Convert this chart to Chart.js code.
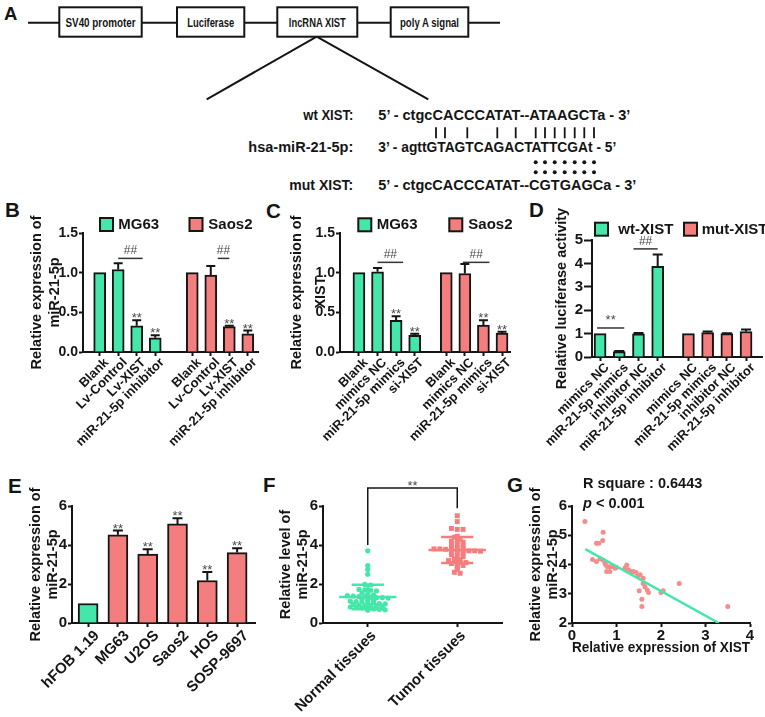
<!DOCTYPE html>
<html>
<head>
<meta charset="utf-8">
<title>XIST / miR-21-5p</title>
<script src="https://cdn.jsdelivr.net/npm/chart.js@4.4.1/dist/chart.umd.min.js"></script>
<style>
  html, body { margin: 0; padding: 0; background: #fff; }
  body { position: relative; width: 765px; height: 717px; overflow: hidden; }
  #art { position: absolute; left: 0; top: 0; }
  .panel { position: absolute; }
  .panel canvas { display: block; }
</style>
</head>
<body>
<svg id="art" width="765" height="717" font-family="Liberation Sans, Arial, sans-serif" font-weight="bold" fill="#151515">
  <!-- A: reporter construct -->
  <g fill="none" stroke="#151515" stroke-width="2">
    <line x1="28" y1="22.7" x2="500" y2="22.7"/>
    <line x1="316.7" y1="36.7" x2="206.7" y2="99.3"/>
    <line x1="316.7" y1="36.7" x2="428.3" y2="99.3"/>
  </g>
  <g fill="#fff" stroke="#151515" stroke-width="2">
    <rect x="59.3" y="7.3" width="82.4" height="29.4"/>
    <rect x="177" y="7.3" width="67.3" height="29.4"/>
    <rect x="277.3" y="7.3" width="80" height="29.4"/>
    <rect x="390.7" y="7.3" width="77.6" height="29.4"/>
  </g>
  <g font-size="13" text-anchor="middle">
    <text x="100.5" y="27.3" textLength="70" lengthAdjust="spacingAndGlyphs">SV40 promoter</text>
    <text x="210.7" y="27.3" textLength="47" lengthAdjust="spacingAndGlyphs">Luciferase</text>
    <text x="317.3" y="27.3" textLength="57" lengthAdjust="spacingAndGlyphs">lncRNA XIST</text>
    <text x="429.5" y="27.3" textLength="59" lengthAdjust="spacingAndGlyphs">poly A signal</text>
  </g>
  <g font-size="14.5">
    <text x="353.3" y="120" text-anchor="end" textLength="50" lengthAdjust="spacingAndGlyphs">wt XIST:</text>
    <text x="378.3" y="120" textLength="252" lengthAdjust="spacingAndGlyphs">5’ - ctgcCACCCATAT--ATAAGCTa - 3’</text>
    <text x="353.3" y="151.7" text-anchor="end" textLength="105" lengthAdjust="spacingAndGlyphs">hsa-miR-21-5p:</text>
    <text x="378.3" y="151.7" textLength="238" lengthAdjust="spacingAndGlyphs">3’ - agttGTAGTCAGACTATTCGAt - 5’</text>
    <text x="353.3" y="190" text-anchor="end" textLength="64" lengthAdjust="spacingAndGlyphs">mut XIST:</text>
    <text x="378.3" y="190" textLength="258" lengthAdjust="spacingAndGlyphs">5’ - ctgcCACCCATAT--CGTGAGCa - 3’</text>
  </g>
  <g stroke="#151515" stroke-width="1.8">
    <line x1="436" y1="127.3" x2="436" y2="138.3"/>
    <line x1="445" y1="127.3" x2="445" y2="138.3"/>
    <line x1="467.3" y1="127.3" x2="467.3" y2="138.3"/>
    <line x1="497.3" y1="127.3" x2="497.3" y2="138.3"/>
    <line x1="515.7" y1="127.3" x2="515.7" y2="138.3"/>
    <line x1="535.7" y1="127.3" x2="535.7" y2="138.3"/>
    <line x1="545" y1="127.3" x2="545" y2="138.3"/>
    <line x1="554.7" y1="127.3" x2="554.7" y2="138.3"/>
    <line x1="564.7" y1="127.3" x2="564.7" y2="138.3"/>
    <line x1="574.7" y1="127.3" x2="574.7" y2="138.3"/>
    <line x1="584.3" y1="127.3" x2="584.3" y2="138.3"/>
    <line x1="594" y1="127.3" x2="594" y2="138.3"/>
  </g>
  <g>
    <circle cx="535.7" cy="162.3" r="2"/><circle cx="545" cy="162.3" r="2"/><circle cx="554.7" cy="162.3" r="2"/>
    <circle cx="564.7" cy="162.3" r="2"/><circle cx="574.7" cy="162.3" r="2"/><circle cx="584.3" cy="162.3" r="2"/>
    <circle cx="594" cy="162.3" r="2"/>
    <circle cx="535.7" cy="172.3" r="2"/><circle cx="545" cy="172.3" r="2"/><circle cx="554.7" cy="172.3" r="2"/>
    <circle cx="564.7" cy="172.3" r="2"/><circle cx="574.7" cy="172.3" r="2"/><circle cx="584.3" cy="172.3" r="2"/>
    <circle cx="594" cy="172.3" r="2"/>
  </g>
  <!-- panel letters -->
  <g font-size="20.5">
    <text x="4" y="20" font-size="18.5">A</text>
    <text x="5" y="217">B</text>
    <text x="266" y="218">C</text>
    <text x="529" y="217">D</text>
    <text x="8" y="493">E</text>
    <text x="263" y="492">F</text>
    <text x="507" y="492">G</text>
  </g>
</svg>

<div class="panel" id="panel-b"><canvas></canvas></div>
<div class="panel" id="panel-c"><canvas></canvas></div>
<div class="panel" id="panel-d"><canvas></canvas></div>
<div class="panel" id="panel-e"><canvas></canvas></div>
<div class="panel" id="panel-f"><canvas></canvas></div>
<div class="panel" id="panel-g"><canvas></canvas></div>

<script>
// ---- data ----
const bCategories = ['Blank', 'Lv-Control', 'Lv-XIST', 'miR-21-5p inhibitor'];
const bMG63 = [1.0, 1.04, 0.33, 0.18];
const bMG63Err = [0, 0.08, 0.07, 0.03];
const bSaos2 = [1.0, 0.97, 0.32, 0.23];
const bSaos2Err = [0, 0.115, 0.01, 0.04];
const bSig = ['', '', '**', '**'];

const cCategories = ['Blank', 'mimics NC', 'miR-21-5p mimics', 'si-XIST'];
const cMG63 = [1.0, 1.01, 0.40, 0.21];
const cMG63Err = [0, 0.05, 0.05, 0.02];
const cSaos2 = [1.0, 0.99, 0.34, 0.24];
const cSaos2Err = [0, 0.12, 0.06, 0.015];
const cSig = ['', '', '**', '**'];

const dCategories = ['mimics NC', 'miR-21-5p mimics', 'inhibitor NC', 'miR-21-5p inhibitor'];
const dWt = [1.0, 0.23, 0.99, 3.88];
const dWtErr = [0, 0.03, 0.04, 0.5];
const dMut = [1.0, 1.04, 1.0, 1.09];
const dMutErr = [0, 0.05, 0.02, 0.08];

const eCategories = ['hFOB 1.19', 'MG63', 'U2OS', 'Saos2', 'HOS', 'SOSP-9697'];
const eValues = [1.0, 4.52, 3.53, 5.08, 2.18, 3.61];
const eErrors = [0, 0.22, 0.25, 0.29, 0.43, 0.22];
const eSig = ['', '**', '**', '**', '**', '**'];

const fCategories = ['Normal tissues', 'Tumor tissues'];
const fNormal = [3.7, 2.95, 2.75, 2.5, 1.98, 1.95, 1.72, 1.7, 1.68, 1.65, 1.55, 1.5, 1.45, 1.4, 1.38,
  1.35, 1.35, 1.32, 1.3, 1.3, 1.28, 1.25, 1.2, 1.15, 1.12, 1.1, 1.1, 1.08, 1.05, 1.0,
  0.98, 0.95, 0.92, 0.9, 0.9, 0.88, 0.85, 0.82, 0.8, 0.78, 0.75, 0.72, 0.7, 0.68, 0.66];
const fTumor = [5.5, 5.2, 4.85, 4.8, 4.8, 4.45, 4.4, 4.3, 4.2, 4.2, 4.15, 4.1, 4.05, 4.0, 3.95,
  3.9, 3.85, 3.8, 3.8, 3.78, 3.75, 3.75, 3.72, 3.7, 3.7, 3.68, 3.65, 3.6, 3.55, 3.5,
  3.45, 3.4, 3.3, 3.25, 3.2, 3.15, 3.1, 3.1, 3.05, 3.0, 2.95, 2.85, 2.75, 2.6, 2.55];

const gXist = [0.29, 0.70, 0.69, 0.55, 0.60, 0.46, 0.55, 0.63, 0.70, 0.74, 0.76, 0.79, 0.85, 0.78,
  0.85, 0.91, 0.97, 1.00, 1.19, 1.23, 1.27, 1.33, 1.38, 1.44, 1.49, 1.53, 1.60, 1.51, 1.64,
  1.69, 1.72, 1.60, 1.57, 1.57, 2.00, 2.05, 2.41, 3.50];
const gMir = [5.47, 5.10, 4.82, 4.73, 4.73, 4.17, 4.10, 4.20, 4.15, 4.05, 3.98, 3.93, 3.92, 3.76,
  3.76, 3.93, 3.87, 3.90, 3.88, 3.98, 3.82, 3.76, 3.76, 3.73, 3.62, 3.65, 3.53, 3.10, 3.24,
  3.13, 3.04, 3.35, 2.81, 2.56, 3.04, 3.10, 3.35, 2.56];
const gFitSlope = -0.843;
const gFitIntercept = 4.78;
const gFitFrom = 0.3;
const gRSquare = '0.6443';

// ---- look ----
const INK = '#151515';
const GREEN = '#45e6a9';
const RED = '#f47e7e';
const PINK = '#f48d8d';
const MARK = '#4a4a4a';
const FONT = "'Liberation Sans', Arial, Helvetica, sans-serif";

Chart.defaults.font.family = FONT;
Chart.defaults.color = INK;
Chart.defaults.animation = false;
Chart.defaults.plugins.legend.display = false;
Chart.defaults.plugins.tooltip.enabled = false;

function place(el, box) {
  el.style.left = box.left + 'px';
  el.style.top = box.top + 'px';
  el.style.width = box.width + 'px';
  el.style.height = box.height + 'px';
}

function layoutFor(p) {
  return {
    autoPadding: false,
    padding: {
      left: 0,
      bottom: 0,
      top: p.area.y0 - p.box.top,
      right: p.box.left + p.box.width - p.area.x1,
    },
  };
}

function valueAxis(p) {
  return {
    type: 'linear',
    min: p.yMin || 0,
    max: p.yMax,
    afterFit: function (s) { s.width = p.area.x0 - p.box.left; },
    border: { display: true, color: INK, width: 2 },
    grid: { display: true, drawOnChartArea: false, drawTicks: true, tickLength: p.yTick || 4, tickWidth: 2, tickColor: INK },
    ticks: {
      stepSize: p.yStep,
      padding: 1,
      color: INK,
      font: { size: p.yFont || 15, weight: 'bold' },
      callback: function (v) { return v.toFixed(p.yDigits || 0); },
    },
    title: {
      display: true,
      text: p.yTitle,
      color: INK,
      font: { size: 14.5, weight: 'bold', lineHeight: p.titleGap + 'px' },
      padding: { top: p.titleX - p.box.left - p.titleGap / 2, bottom: 0 },
    },
  };
}

function indexAxis(p, values, texts) {
  return {
    type: 'linear',
    min: p.xMin,
    max: p.xMax,
    offset: false,
    afterBuildTicks: function (s) {
      s.ticks = values.map(function (v) { return { value: v }; });
    },
    afterFit: function (s) { s.height = p.box.top + p.box.height - p.area.y1; },
    border: { display: true, color: INK, width: 2 },
    grid: { display: true, offset: false, drawOnChartArea: false, drawTicks: true, tickLength: 4, tickWidth: 2, tickColor: INK },
    ticks: {
      autoSkip: false,
      minRotation: 45,
      maxRotation: 45,
      padding: p.xPad || 0,
      labelOffset: p.xShift || 0,
      color: INK,
      font: { size: p.xFont, weight: 'bold' },
      callback: function (v, i) { return texts[i]; },
    },
  };
}

function barMarks(p) {
  return {
    id: 'barMarks',
    afterDatasetsDraw: function (chart) {
      var ctx = chart.ctx;
      var ys = chart.scales.y;
      ctx.save();
      chart.data.datasets.forEach(function (ds, di) {
        chart.getDatasetMeta(di).data.forEach(function (bar, i) {
          var err = ds.errors[i];
          var top = ys.getPixelForValue(ds.data[i].y + err);
          if (err > 0) {
            ctx.strokeStyle = INK;
            ctx.lineWidth = 2;
            ctx.beginPath();
            ctx.moveTo(bar.x, bar.y);
            ctx.lineTo(bar.x, top);
            ctx.moveTo(bar.x - p.cap, top);
            ctx.lineTo(bar.x + p.cap, top);
            ctx.stroke();
          }
          if (ds.sig && ds.sig[i]) {
            ctx.fillStyle = MARK;
            ctx.font = '13px ' + FONT;
            ctx.textAlign = 'center';
            ctx.textBaseline = 'alphabetic';
            ctx.fillText(ds.sig[i], bar.x, top + 2);
          }
        });
      });
      (p.brackets || []).forEach(function (b) {
        var meta = chart.getDatasetMeta(b.series);
        var x1 = meta.data[b.from].x - b.padL;
        var x2 = meta.data[b.to].x + b.padR;
        var y = ys.getPixelForValue(b.level);
        ctx.strokeStyle = '#333';
        ctx.lineWidth = 1.5;
        ctx.beginPath();
        ctx.moveTo(x1, y);
        ctx.lineTo(x2, y);
        ctx.stroke();
        ctx.fillStyle = MARK;
        ctx.font = (b.size || 12) + 'px ' + FONT;
        ctx.textAlign = 'center';
        ctx.textBaseline = 'alphabetic';
        ctx.fillText(b.text, (x1 + x2) / 2, y - 4);
      });
      (p.legend || []).forEach(function (item) {
        var x = item.x - p.box.left;
        var y = item.y - p.box.top;
        ctx.fillStyle = item.color;
        ctx.fillRect(x, y, 13, 13);
        ctx.strokeStyle = INK;
        ctx.lineWidth = 2;
        ctx.strokeRect(x, y, 13, 13);
        ctx.fillStyle = INK;
        ctx.font = 'bold 15px ' + FONT;
        ctx.textAlign = 'left';
        ctx.textBaseline = 'middle';
        ctx.fillText(item.name, item.tx - p.box.left, y + 7);
      });
      ctx.restore();
    },
  };
}

function barPanel(p) {
  var wrap = document.getElementById(p.id);
  place(wrap, p.box);
  var tickValues = [];
  var tickText = [];
  var datasets = p.series.map(function (s) {
    var pts = s.values.map(function (v, i) {
      tickValues.push(s.start + i);
      tickText.push(p.categories[i]);
      return { x: s.start + i, y: v };
    });
    return {
      label: s.name,
      data: pts,
      errors: s.errors,
      sig: s.sig,
      backgroundColor: s.color,
      borderColor: INK,
      borderWidth: 2,
      barThickness: p.barWidth,
      grouped: false,
    };
  });
  new Chart(wrap.querySelector('canvas'), {
    type: 'bar',
    data: { datasets: datasets },
    options: {
      responsive: true,
      maintainAspectRatio: false,
      layout: layoutFor(p),
      scales: { x: indexAxis(p, tickValues, tickText), y: valueAxis(p) },
    },
    plugins: [barMarks(p)],
  });
}

// B
barPanel({
  id: 'panel-b',
  box: { left: 0, top: 195, width: 262, height: 270 },
  area: { x0: 83, y0: 233, x1: 258, y1: 352 },
  categories: bCategories,
  series: [
    { name: 'MG63', values: bMG63, errors: bMG63Err, sig: bSig, color: GREEN, start: 1 },
    { name: 'Saos2', values: bSaos2, errors: bSaos2Err, sig: bSig, color: RED, start: 6 },
  ],
  xMin: 0.1, xMax: 9.55, xFont: 13, xShift: 7, xPad: -1, barWidth: 12, cap: 4.5,
  yMax: 1.5, yStep: 0.5, yDigits: 1, yFont: 14,
  yTitle: ['Relative expression of', 'miR-21-5p'], titleX: 36.7, titleGap: 18,
  brackets: [
    { series: 0, from: 1, to: 2, level: 1.18, text: '##', padL: 0, padR: 6 },
    { series: 1, from: 1, to: 2, level: 1.18, text: '##', padL: -7, padR: 0 },
  ],
  legend: [
    { name: 'MG63', color: GREEN, x: 100, y: 218, tx: 118.3 },
    { name: 'Saos2', color: RED, x: 189.5, y: 218, tx: 208.3 },
  ],
});

// C (box runs a little past D's edge so the legend text is not cut)
barPanel({
  id: 'panel-c',
  box: { left: 262, top: 195, width: 258, height: 270 },
  area: { x0: 340, y0: 233, x1: 510, y1: 352 },
  categories: cCategories,
  series: [
    { name: 'MG63', values: cMG63, errors: cMG63Err, sig: cSig, color: GREEN, start: 1 },
    { name: 'Saos2', values: cSaos2, errors: cSaos2Err, sig: cSig, color: RED, start: 5.7 },
  ],
  xMin: -0.02, xMax: 9.13, xFont: 13, xShift: 7, xPad: -1, barWidth: 12, cap: 4.5,
  yMax: 1.5, yStep: 0.5, yDigits: 1, yFont: 14,
  yTitle: ['Relative expression of', 'XIST'], titleX: 296.7, titleGap: 24,
  brackets: [
    { series: 0, from: 1, to: 2, level: 1.13, text: '##', padL: 0, padR: 7 },
    { series: 1, from: 1, to: 2, level: 1.13, text: '##', padL: 2, padR: 6 },
  ],
  legend: [
    { name: 'MG63', color: GREEN, x: 358.3, y: 218.3, tx: 376.7 },
    { name: 'Saos2', color: RED, x: 449.3, y: 218.3, tx: 468.3 },
  ],
});

// D
barPanel({
  id: 'panel-d',
  box: { left: 512, top: 195, width: 253, height: 270 },
  area: { x0: 592, y0: 240, x1: 762, y1: 357 },
  categories: dCategories,
  series: [
    { name: 'wt-XIST', values: dWt, errors: dWtErr, sig: null, color: GREEN, start: 1 },
    { name: 'mut-XIST', values: dMut, errors: dMutErr, sig: null, color: RED, start: 5.6 },
  ],
  xMin: 0.58, xMax: 9.43, xFont: 13, xShift: 7, xPad: -1, barWidth: 12, cap: 5,
  yMax: 5, yStep: 1, yDigits: 0, yFont: 15, yTick: 8,
  yTitle: 'Relative luciferase activity', titleX: 562, titleGap: 17,
  brackets: [
    { series: 0, from: 0, to: 1, level: 1.24, text: '**', size: 13, padL: 3, padR: 5 },
    { series: 0, from: 2, to: 3, level: 4.62, text: '##', padL: 5, padR: 0 },
  ],
  legend: [
    { name: 'wt-XIST', color: GREEN, x: 595, y: 222.7, tx: 618.3 },
    { name: 'mut-XIST', color: RED, x: 684, y: 222.7, tx: 701.7 },
  ],
});

// E
barPanel({
  id: 'panel-e',
  box: { left: 0, top: 470, width: 262, height: 247 },
  area: { x0: 72, y0: 506, x1: 255, y1: 623 },
  categories: eCategories,
  series: [
    {
      name: 'miR-21-5p', values: eValues, errors: eErrors, sig: eSig, start: 1,
      color: eValues.map(function (v, i) { return i === 0 ? GREEN : RED; }),
    },
  ],
  xMin: 0.46, xMax: 6.6, xFont: 15, xShift: 9, xPad: 0, barWidth: 20, cap: 5,
  yMax: 6, yStep: 2, yDigits: 0, yFont: 15,
  yTitle: ['Relative expression of', 'miR-21-5p'], titleX: 35.5, titleGap: 17.5,
});

// F: scatter dot plot with mean +/- SD
function mean(a) { return a.reduce(function (s, v) { return s + v; }, 0) / a.length; }
function stdev(a, m) {
  return Math.sqrt(a.reduce(function (s, v) { return s + (v - m) * (v - m); }, 0) / (a.length - 1));
}
function swarm(values, center, bin, step) {
  var rows = {};
  values.forEach(function (v) {
    var k = Math.round(v / bin);
    (rows[k] = rows[k] || []).push(v);
  });
  var pts = [];
  Object.keys(rows).forEach(function (k) {
    var row = rows[k];
    row.forEach(function (v, i) {
      pts.push({ x: center + (i - (row.length - 1) / 2) * step, y: v });
    });
  });
  return pts;
}

(function () {
  var p = {
    box: { left: 262, top: 470, width: 243, height: 247 },
    area: { x0: 323, y0: 506, x1: 502, y1: 623 },
    xMin: 0.5, xMax: 2.5, xFont: 15, xShift: 6, xPad: 0,
    yMax: 6, yStep: 2, yDigits: 0, yFont: 15,
    yTitle: ['Relative level of', 'miR-21-5p'], titleX: 285.5, titleGap: 17.5,
  };
  var wrap = document.getElementById('panel-f');
  place(wrap, p.box);
  var groups = [
    { values: fNormal, center: 1, color: GREEN, style: 'circle', radius: 2.6 },
    { values: fTumor, center: 2, color: RED, style: 'rect', radius: 3.5 },
  ];
  var statsPlugin = {
    id: 'fStats',
    afterDatasetsDraw: function (chart) {
      var ctx = chart.ctx, xs = chart.scales.x, ys = chart.scales.y;
      ctx.save();
      ctx.lineWidth = 2.5;
      groups.forEach(function (g) {
        var m = mean(g.values), sd = stdev(g.values, m);
        var cx = xs.getPixelForValue(g.center);
        var half = xs.getPixelForValue(g.center + 0.32) - cx;
        var cap = xs.getPixelForValue(g.center + 0.18) - cx;
        var yM = ys.getPixelForValue(m), yHi = ys.getPixelForValue(m + sd), yLo = ys.getPixelForValue(m - sd);
        ctx.strokeStyle = g.color;
        ctx.beginPath();
        ctx.moveTo(cx - half, yM); ctx.lineTo(cx + half, yM);
        ctx.moveTo(cx, yHi); ctx.lineTo(cx, yLo);
        ctx.moveTo(cx - cap, yHi); ctx.lineTo(cx + cap, yHi);
        ctx.moveTo(cx - cap, yLo); ctx.lineTo(cx + cap, yLo);
        ctx.stroke();
      });
      ctx.restore();
    },
    afterDraw: function (chart) {
      var ctx = chart.ctx, xs = chart.scales.x, ys = chart.scales.y;
      var x1 = xs.getPixelForValue(1), x2 = xs.getPixelForValue(2);
      var yTop = ys.getPixelForValue(6.92);
      ctx.save();
      ctx.strokeStyle = INK;
      ctx.lineWidth = 1.5;
      ctx.beginPath();
      ctx.moveTo(x1, ys.getPixelForValue(4.0));
      ctx.lineTo(x1, yTop);
      ctx.lineTo(x2, yTop);
      ctx.lineTo(x2, ys.getPixelForValue(5.88));
      ctx.stroke();
      ctx.fillStyle = MARK;
      ctx.font = '13px ' + FONT;
      ctx.textAlign = 'center';
      ctx.fillText('**', (x1 + x2) / 2, yTop + 2);
      ctx.restore();
    },
  };
  new Chart(wrap.querySelector('canvas'), {
    type: 'scatter',
    data: {
      datasets: groups.map(function (g, i) {
        return {
          label: fCategories[i],
          data: swarm(g.values, g.center, 0.15, 0.065),
          pointStyle: g.style,
          pointRadius: g.radius,
          pointBorderWidth: 0,
          backgroundColor: g.color,
          borderColor: g.color,
        };
      }),
    },
    options: {
      responsive: true,
      maintainAspectRatio: false,
      layout: layoutFor(p),
      scales: { x: indexAxis(p, [1, 2], fCategories), y: valueAxis(p) },
    },
    plugins: [statsPlugin],
  });
})();

// G: correlation
(function () {
  var p = {
    box: { left: 505, top: 470, width: 260, height: 190 },
    area: { x0: 572, y0: 506, x1: 750, y1: 623 },
    yMin: 2, yMax: 6, yStep: 1, yDigits: 0, yFont: 15,
    yTitle: ['Relative expression of', 'miR-21-5p'], titleX: 536, titleGap: 17,
  };
  var wrap = document.getElementById('panel-g');
  place(wrap, p.box);
  var fitTo = (2 - gFitIntercept) / gFitSlope;
  var textPlugin = {
    id: 'gText',
    afterDraw: function (chart) {
      var ctx = chart.ctx;
      var x = 583 - p.box.left;
      ctx.save();
      ctx.fillStyle = INK;
      ctx.textAlign = 'left';
      ctx.textBaseline = 'alphabetic';
      ctx.font = 'bold 14.5px ' + FONT;
      ctx.fillText('R square : ' + gRSquare, x, 488 - p.box.top);
      ctx.font = 'italic bold 14.5px ' + FONT;
      ctx.fillText('p', x, 508 - p.box.top);
      var w = ctx.measureText('p').width;
      ctx.font = 'bold 14.5px ' + FONT;
      ctx.fillText(' < 0.001', x + w, 508 - p.box.top);
      ctx.restore();
    },
  };
  var xAxis = {
    type: 'linear',
    min: 0,
    max: 4,
    afterFit: function (s) { s.height = p.box.top + p.box.height - p.area.y1; },
    border: { display: true, color: INK, width: 2 },
    grid: { display: true, drawOnChartArea: false, drawTicks: true, tickLength: 4, tickWidth: 2, tickColor: INK },
    ticks: { stepSize: 1, padding: 0, maxRotation: 0, color: INK, font: { size: 15, weight: 'bold' } },
    title: {
      display: true,
      text: 'Relative expression of XIST',
      color: INK,
      font: { size: 15, weight: 'bold', lineHeight: '17px' },
      padding: { top: 0, bottom: 3.5 },
    },
  };
  new Chart(wrap.querySelector('canvas'), {
    type: 'scatter',
    data: {
      datasets: [
        {
          label: 'fit',
          data: [
            { x: gFitFrom, y: gFitIntercept + gFitSlope * gFitFrom },
            { x: fitTo, y: 2 },
          ],
          showLine: true,
          borderColor: GREEN,
          borderWidth: 2.5,
          pointRadius: 0,
        },
        {
          label: 'samples',
          data: gXist.map(function (x, i) { return { x: x, y: gMir[i] }; }),
          pointRadius: 2.5,
          pointBorderWidth: 0,
          backgroundColor: PINK,
        },
      ],
    },
    options: {
      responsive: true,
      maintainAspectRatio: false,
      layout: layoutFor(p),
      scales: { x: xAxis, y: valueAxis(p) },
    },
    plugins: [textPlugin],
  });
})();
</script>
</body>
</html>
